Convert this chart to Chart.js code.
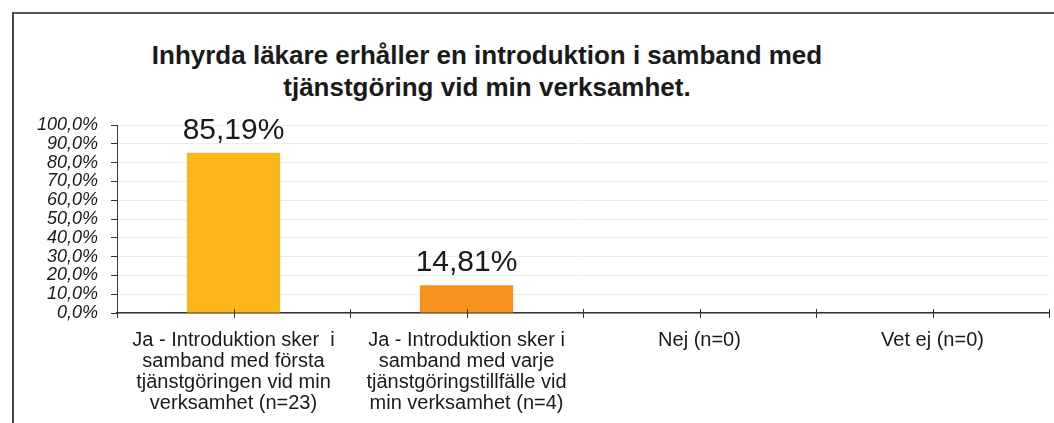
<!DOCTYPE html>
<html lang="sv">
<head>
<meta charset="utf-8">
<script src="https://cdn.jsdelivr.net/npm/chart.js@4/dist/chart.umd.min.js"></script>
<style>
  html, body { margin: 0; padding: 0; background: #fff; }
  #wrap { position: relative; width: 1054px; height: 423px; overflow: hidden; }
  #frame { position: absolute; left: 12px; top: 12px; right: -4px; bottom: -4px;
           border-left: 2px solid #444; border-top: 2px solid #555; }
  #title { position: absolute; left: 107px; width: 760px; top: 39px; text-align: center;
           font: bold 26px "Liberation Sans", Arial, sans-serif; line-height: 32px; color: #1a1a1a; }
  #chart { position: absolute; left: 0; top: 0; }
</style>
</head>
<body>
<div id="wrap">
  <div id="frame"></div>
  <div id="title">Inhyrda läkare erhåller en introduktion i samband med<br>tjänstgöring vid min verksamhet.</div>
  <canvas id="chart" width="1054" height="423"></canvas>
</div>
<script>
// ── Data ────────────────────────────────────────────────────────
const categories = [
  ['Ja - Introduktion sker  i', 'samband med första', 'tjänstgöringen vid min', 'verksamhet (n=23)'],
  ['Ja - Introduktion sker i', 'samband med varje', 'tjänstgöringstillfälle vid', 'min verksamhet (n=4)'],
  ['Nej (n=0)'],
  ['Vet ej (n=0)'],
];
const values = [0.8519, 0.1481, 0, 0];
const valueLabels = ['85,19%', '14,81%', '', ''];
const barColors = ['#fbb71a', '#f7921f', '#fbb71a', '#f7921f'];
const yTicks = [0, 0.1, 0.2, 0.3, 0.4, 0.5, 0.6, 0.7, 0.8, 0.9, 1.0];

const FONT = '"Liberation Sans", Arial, sans-serif';
const fmtPct = v => (v * 100).toFixed(1).replace('.', ',') + '%';

// ── Värdeetiketter ovanför staplarna ────────────────────────────
const valueLabelPlugin = {
  id: 'valueLabels',
  afterDatasetsDraw(chart) {
    const ctx = chart.ctx;
    const meta = chart.getDatasetMeta(0);
    ctx.save();
    ctx.font = '30px ' + FONT;
    ctx.fillStyle = '#1a1a1a';
    ctx.textAlign = 'center';
    ctx.textBaseline = 'alphabetic';
    meta.data.forEach((bar, i) => {
      if (!valueLabels[i]) return;
      ctx.fillText(valueLabels[i], bar.x, bar.y - 14);
    });
    ctx.restore();
  }
};

// ── X-axelns streck (genom axeln, vid mitt och gränser) ─────────
const crossTicksPlugin = {
  id: 'crossTicks',
  afterDraw(chart) {
    const x = chart.scales.x;
    const ctx = chart.ctx;
    const y0 = chart.chartArea.bottom;
    const half = (x.getPixelForValue(1) - x.getPixelForValue(0)) / 2;
    ctx.save();
    ctx.strokeStyle = '#333';
    ctx.lineWidth = 1;
    ctx.beginPath();
    for (let i = 0; i < categories.length; i++) {
      const c = x.getPixelForValue(i);
      [c - half, c, c + half].forEach(px => {
        const p = Math.round(px) + 0.5;
        ctx.moveTo(p, y0 - 4);
        ctx.lineTo(p, y0 + 5);
      });
    }
    ctx.stroke();
    ctx.restore();
  }
};

new Chart(document.getElementById('chart'), {
  type: 'bar',
  data: {
    labels: categories,
    datasets: [{
      data: values,
      backgroundColor: barColors,
      borderWidth: 0,
      barPercentage: 0.4,
      categoryPercentage: 1.0,
    }]
  },
  options: {
    responsive: false,
    animation: false,
    layout: { padding: { top: 125, right: 5, left: 0, bottom: 0 } },
    plugins: { legend: { display: false }, tooltip: { enabled: false }, title: { display: false } },
    scales: {
      y: {
        min: 0, max: 1,
        afterFit: s => { s.width = 117; },
        afterBuildTicks: s => { s.ticks = yTicks.map(v => ({ value: v })); },
        ticks: {
          callback: v => fmtPct(v),
          autoSkip: false,
          color: '#1a1a1a',
          padding: 13,
          font: { family: FONT, size: 18, style: 'italic', lineHeight: 1 },
        },
        grid: { color: '#ececec', tickColor: '#333', tickLength: 6 },
        border: { color: '#333', width: 1 },
      },
      x: {
        afterFit: s => { s.height = 110; },
        ticks: {
          color: '#1a1a1a',
          padding: 9,
          maxRotation: 0,
          autoSkip: false,
          font: { family: FONT, size: 20, lineHeight: 1.05 },
        },
        grid: { display: false },
        border: { color: '#333', width: 1.5 },
      }
    }
  },
  plugins: [valueLabelPlugin, crossTicksPlugin]
});
</script>
</body>
</html>
